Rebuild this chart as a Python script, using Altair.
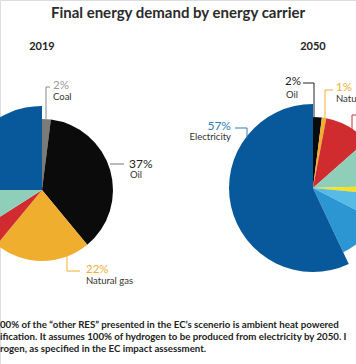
import altair as alt
import pandas as pd

# ---------------- data ----------------
title_text = "Final energy demand by energy carrier"
years = ["2019", "2050"]

carriers_2019 = ["Coal", "Oil", "Natural gas", "District heat", "Bioenergy", "Electricity"]
values_2019 = [2, 37, 22, 5, 9, 25]

carriers_2050 = ["Oil", "Natural gas", "District heat", "Bioenergy", "Hydrogen",
                 "Other RES", "Ambient heat", "Electricity"]
values_2050 = [2, 1, 10.5, 11, 2, 6, 10.5, 57]

carrier_domain = ["Coal", "Oil", "Natural gas", "District heat", "Bioenergy",
                  "Hydrogen", "Other RES", "Ambient heat", "Electricity"]
carrier_colors = ["#7a7a7a", "#0b0b0b", "#f0ae2f", "#d02c2f", "#8fcfb9",
                  "#f7e21b", "#58bbe5", "#2c96d2", "#07599b"]

footnote_lines = [
    "00% of the \u201cother RES\u201d presented in the EC\u2019s scenerio is ambient heat powered",
    "ification. It assumes 100% of hydrogen to be produced from electricity by 2050. I",
    "rogen, as specified in the EC impact assessment.",
]

rows = []
for yr, cs, vs in [("2019", carriers_2019, values_2019), ("2050", carriers_2050, values_2050)]:
    for i, (c, v) in enumerate(zip(cs, vs)):
        rows.append({"year": yr, "carrier": c, "value": v, "order": i})
pie_df = pd.DataFrame(rows)

theta_scale = alt.Scale(domain=[0, 100], range=[0, 6.283185307])
color_scale = alt.Scale(domain=carrier_domain, range=carrier_colors)


def pie(year, cx, cy):
    base = (
        alt.Chart(pie_df)
        .transform_filter(alt.datum.year == year)
        .transform_window(end="sum(value)", sort=[alt.SortField("order")], frame=[None, 0])
        .transform_calculate(start="datum.end - datum.value")
    )
    enc = dict(
        theta=alt.Theta("start:Q", scale=theta_scale),
        theta2="end:Q",
        color=alt.Color("carrier:N", scale=color_scale, legend=None),
        x=alt.value(cx),
        y=alt.value(cy),
    )
    others = base.transform_filter(alt.datum.carrier != "Electricity").mark_arc(radius=71).encode(**enc)
    elec = base.transform_filter(alt.datum.carrier == "Electricity").mark_arc(radius=84).encode(**enc)
    return [others, elec]


# leader lines
seg_df = pd.DataFrame([
    {"x": 46, "y": 87, "x2": 46, "y2": 120, "c": "#8a8a8a"},
    {"x": 46, "y": 87, "x2": 50, "y2": 87, "c": "#8a8a8a"},
    {"x": 110, "y": 164, "x2": 124, "y2": 164, "c": "#777777"},
    {"x": 67, "y": 256, "x2": 67, "y2": 271, "c": "#f0ae2f"},
    {"x": 67, "y": 271, "x2": 80, "y2": 271, "c": "#f0ae2f"},
    {"x": 235, "y": 128, "x2": 247, "y2": 128, "c": "#2e7db8"},
    {"x": 247, "y": 128, "x2": 247, "y2": 138, "c": "#2e7db8"},
    {"x": 303, "y": 83, "x2": 314, "y2": 83, "c": "#222222"},
    {"x": 314, "y": 83, "x2": 314, "y2": 119, "c": "#222222"},
    {"x": 325, "y": 90, "x2": 333, "y2": 90, "c": "#f0ae2f"},
    {"x": 325, "y": 90, "x2": 325, "y2": 119, "c": "#f0ae2f"},
    {"x": 352, "y": 115, "x2": 358, "y2": 115, "c": "#d02c2f"},
    {"x": 352, "y": 115, "x2": 352, "y2": 131, "c": "#d02c2f"},
])
rules = alt.Chart(seg_df).mark_rule(strokeWidth=1).encode(
    x=alt.X("x:Q", scale=None), x2="x2:Q",
    y=alt.Y("y:Q", scale=None), y2="y2:Q",
    color=alt.Color("c:N", scale=None),
)

FONT = "Lato"


def texts(records, align="left", weight="normal", font=FONT):
    df = pd.DataFrame(records)
    return alt.Chart(df).mark_text(align=align, baseline="middle", font=font, fontWeight=weight).encode(
        x=alt.X("x:Q", scale=None),
        y=alt.Y("y:Q", scale=None),
        text="t:N",
        color=alt.Color("c:N", scale=None),
        size=alt.Size("s:Q", scale=None),
    )


title_layer = texts([{"t": title_text, "x": 178, "y": 13, "c": "#2b2b2b", "s": 15}], align="center", weight="bold")
year_layer = texts([
    {"t": years[0], "x": 42, "y": 47, "c": "#222222", "s": 11},
    {"t": years[1], "x": 313, "y": 47, "c": "#222222", "s": 11},
], align="center", weight="bold")

pct_left = texts([
    {"t": "2%", "x": 53, "y": 85.5, "c": "#9a9a9a", "s": 11.5},
    {"t": "37%", "x": 129, "y": 163.5, "c": "#222222", "s": 12},
    {"t": "22%", "x": 86, "y": 269.5, "c": "#f0ae2f", "s": 11.5},
    {"t": "1%", "x": 336, "y": 87.5, "c": "#f0ae2f", "s": 11.5},
])
name_left = texts([
    {"t": "Coal", "x": 53, "y": 97, "c": "#333333", "s": 9.5},
    {"t": "Oil", "x": 130, "y": 175, "c": "#333333", "s": 9.5},
    {"t": "Natural gas", "x": 86, "y": 281, "c": "#333333", "s": 9.5},
    {"t": "Natural gas", "x": 336, "y": 99, "c": "#333333", "s": 9.5},
])
right_labels = texts([
    {"t": "57%", "x": 231, "y": 125.5, "c": "#2e7db8", "s": 12},
    {"t": "Electricity", "x": 231, "y": 137, "c": "#333333", "s": 9.5},
    {"t": "2%", "x": 301, "y": 82, "c": "#222222", "s": 11.5},
], align="right")
center_labels = texts([
    {"t": "Oil", "x": 292, "y": 94.5, "c": "#333333", "s": 9.5},
], align="center")

foot = texts([
    {"t": line, "x": 0, "y": 325 + 12 * i, "c": "#222222", "s": 9.7}
    for i, line in enumerate(footnote_lines)
], weight="bold")

layers = pie(years[0], 42, 190) + pie(years[1], 313, 188) + [
    rules, title_layer, year_layer, pct_left, name_left, right_labels, center_labels, foot
]

chart = alt.layer(*layers).properties(
    width=356, height=364, padding=0, autosize="none"
).configure_view(stroke=None).configure(background="white")

chart.save("out.html", embed_options={"renderer": "svg", "actions": False})
